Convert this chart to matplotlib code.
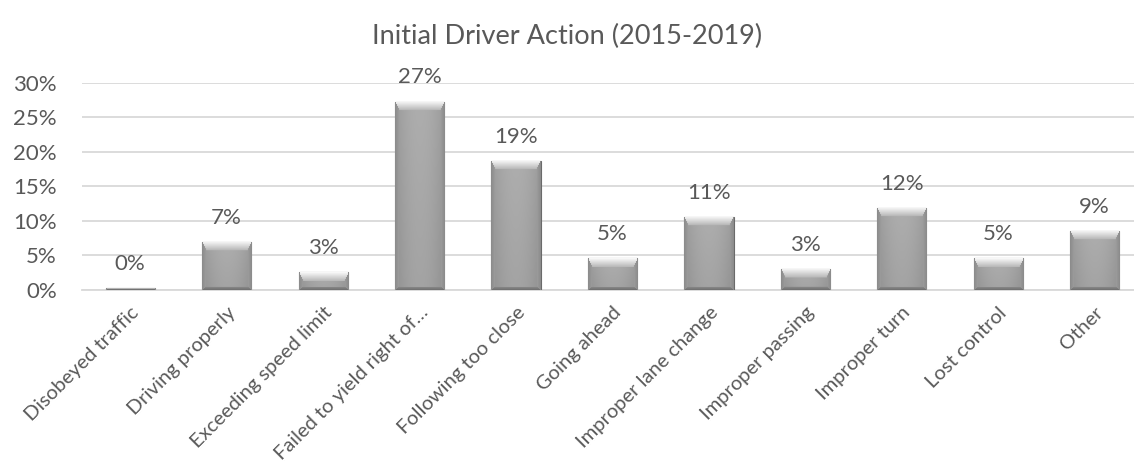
import numpy as np
import matplotlib
matplotlib.use("Agg")
from matplotlib import pyplot as plt

# Data
actions = ["Disobeyed traffic", "Driving properly", "Exceeding speed limit",
           "Failed to yield right of\u2026", "Following too close", "Going ahead",
           "Improper lane change", "Improper passing", "Improper turn",
           "Lost control", "Other"]
share = [0.3, 7.0, 2.6, 27.3, 18.7, 4.6, 10.6, 3.1, 11.9, 4.6, 8.6]
labels = ["0%", "7%", "3%", "27%", "19%", "5%", "11%", "3%", "12%", "5%", "9%"]
yticks = [0, 5, 10, 15, 20, 25, 30]

plt.rcParams['font.family'] = ['Lato', 'DejaVu Sans']
text_color = '#595959'


def bevel_image(w, h):
    # grey bar with a light top bevel and darker sides / bottom
    w = max(w, 2)
    h = max(h, 2)
    yy, xx = np.mgrid[0:h, 0:w].astype(float)
    cx = (w - 1) / 2
    base = 0.68 - 0.08 * np.abs((xx - cx) / (w / 2)) ** 2 - 0.04 * yy / h
    s, t, b = 4.0, 9.0, 3.0
    t = min(t, h / 2)
    dists = np.stack([xx / s, (w - 1 - xx) / s, yy / t, (h - 1 - yy) / b])
    m = dists.min(axis=0)
    which = dists.argmin(axis=0)
    img = base.copy()
    inb = m < 1
    top = inb & (which == 2)
    img[top] = 0.97 - 0.27 * m[top]
    side = inb & ((which == 0) | (which == 1))
    img[side] = 0.55 + 0.07 * m[side]
    bot = inb & (which == 3)
    img[bot] = 0.45 + 0.1 * m[bot]
    return np.dstack([img, img, img])


fig = plt.figure(figsize=(11.34, 4.75), dpi=100)
# plot area runs past the right edge of the picture, as in the original crop
ax = fig.add_axes([0.0723, 0.3895, 0.9356, 0.436])

x = np.arange(len(actions))
bars = ax.bar(x, share, width=0.51, color='#a5a5a5', edgecolor='#6a6a6a',
              linewidth=0.8, zorder=3)
ax.set_xlim(-0.5, len(actions) - 0.5)
ax.set_ylim(0, 30)

fig.canvas.draw()
for bar, v in zip(bars, share):
    x0 = bar.get_x()
    x1 = x0 + bar.get_width()
    (px0, py0), (px1, py1) = ax.transData.transform([(x0, 0), (x1, v)])
    img = bevel_image(int(round(px1 - px0)), int(round(py1 - py0)))
    im = ax.imshow(img, extent=(x0, x1, 0, v), aspect='auto', zorder=3.5,
                   interpolation='bilinear')
    im.set_clip_path(bar)
ax.set_xlim(-0.5, len(actions) - 0.5)
ax.set_ylim(0, 30)

for xi, v, lab in zip(x, share, labels):
    ax.annotate(lab, (xi, v), xytext=(0, 13), textcoords='offset points',
                ha='center', va='baseline', fontsize=16, color=text_color)

ax.set_yticks(yticks)
ax.set_yticklabels([f"{t}%" for t in yticks])
ax.yaxis.grid(True, color='#d9d9d9', linewidth=1.3, zorder=0)
ax.set_axisbelow(True)
for side in ['top', 'right', 'left']:
    ax.spines[side].set_visible(False)
ax.spines['bottom'].set_color('#d9d9d9')
ax.spines['bottom'].set_linewidth(1.3)
ax.tick_params(axis='y', length=0, labelsize=16, colors=text_color, pad=18)

ax.set_xticks(x)
ax.set_xticklabels(actions, rotation=45, ha='right', va='top',
                   rotation_mode='anchor')
ax.tick_params(axis='x', length=0, labelsize=14.5, colors=text_color, pad=10)

fig.suptitle('Initial Driver Action (2015-2019)', fontsize=19.5, color=text_color,
             y=0.95)

fig.savefig('out.png', dpi=100)
